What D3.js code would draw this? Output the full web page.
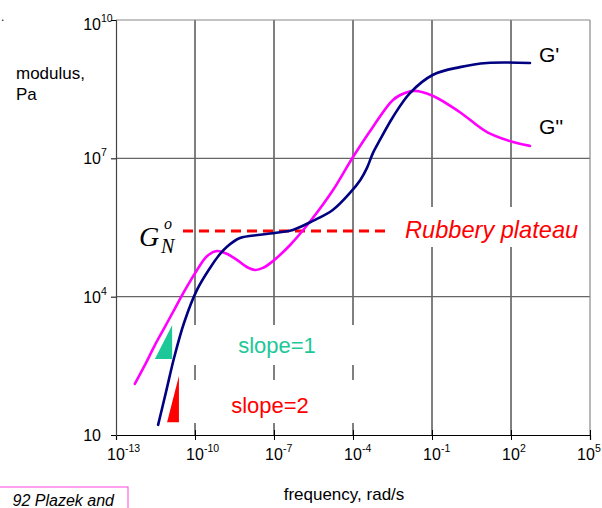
<!DOCTYPE html>
<html>
<head>
<meta charset="utf-8">
<script src="https://cdn.jsdelivr.net/npm/d3@7"></script>
<style>
  html, body { margin: 0; padding: 0; background: #fff; }
  svg { display: block; font-family: "Liberation Sans", Arial, sans-serif; }
</style>
</head>
<body>
<svg id="chart" width="602" height="508"></svg>
<script>
// Storage modulus G' (rad/s, Pa)
const gPrimeFreq = [3.98e-12, 7.94e-12, 1.6e-11, 3.82e-11, 1.19e-10, 3.72e-10, 8.9e-10,
  1.6e-9, 5.1e-9, 3.0e-8, 1.7e-7, 5.2e-7, 3.0e-6, 1.7e-5, 7.8e-5, 1.9e-4, 3.4e-4, 5.7e-4,
  1.05e-3, 3.3e-3, 1.45e-2, 0.11, 1.15, 12.3, 525];
const gPrimeMod = [16.6, 86, 468, 2.69e3, 1.4e4, 4.19e4, 8.4e4,
  1.2e5, 1.87e5, 2.2e5, 2.5e5, 2.8e5, 4.4e5, 7.6e5, 1.8e6, 3.4e6, 6.2e6, 1.3e7,
  2.5e7, 7.9e7, 2.6e8, 6.5e8, 9.5e8, 1.17e9, 1.17e9];

// Loss modulus G'' (rad/s, Pa)
const gDoublePrimeFreq = [5.2e-13, 1.26e-12, 3.0e-12, 7.2e-12, 1.74e-11, 4.2e-11, 1.2e-10, 2.9e-10,
  6.8e-10, 1.6e-9, 3.9e-9, 9.3e-9, 1.9e-8, 3.8e-8, 9.1e-8, 4.1e-7, 2.3e-6, 1.7e-5,
  1.0e-4, 5.7e-4, 3.3e-3, 9.4e-3, 2.2e-2, 0.11, 1.15, 12.3, 120, 525];
const gDoublePrimeMod = [129, 331, 891, 2.2e3, 5.6e3, 1.4e4, 3.8e4, 7.6e4,
  9.8e4, 8.5e4, 6.3e4, 4.4e4, 3.8e4, 4.2e4, 5.9e4, 1.32e5, 4.2e5, 2.0e6,
  1.07e7, 4.8e7, 1.85e8, 2.6e8, 2.9e8, 2.25e8, 1.0e8, 3.7e7, 2.25e7, 1.86e7];

// Rubbery plateau modulus and the frequency span of its marker line
const plateauModulus = 2.65e5;
const plateauFreq = [3.5e-11, 1.96e-3];

// Slope guides: [low freq, high freq], [low modulus, high modulus]
const slope1Freq = [3.0e-12, 1.35e-11];
const slope1Mod = [447, 2.4e3];
const slope2Freq = [8.7e-12, 2.45e-11];
const slope2Mod = [19, 190];

// Axis ticks (exponents of ten)
const xTickExp = [-13, -10, -7, -4, -1, 2, 5];
const yTickExp = [1, 4, 7, 10];

const svg = d3.select("#chart");
const plotLeft = 116, plotRight = 590, plotTop = 20, plotBottom = 435;

const x = d3.scaleLog().domain([1e-13, 1e5]).range([plotLeft, plotRight]);
const y = d3.scaleLog().domain([10, 1e10]).range([plotBottom, plotTop]);

const xTicks = xTickExp.map(e => Math.pow(10, e));
const yTicks = yTickExp.map(e => Math.pow(10, e));

// Gridlines
const grid = svg.append("g");
grid.selectAll("line.v").data(xTicks.slice(1, -1)).join("line")
  .attr("x1", d => x(d)).attr("x2", d => x(d))
  .attr("y1", plotTop).attr("y2", plotBottom)
  .attr("stroke", "#000").attr("stroke-width", 1);
grid.selectAll("line.h").data(yTicks.slice(1, -1)).join("line")
  .attr("x1", plotLeft).attr("x2", plotRight)
  .attr("y1", d => y(d)).attr("y2", d => y(d))
  .attr("stroke", "#666").attr("stroke-width", 1.2);
// Frame (top and right)
grid.append("line").attr("x1", plotLeft).attr("x2", plotRight).attr("y1", plotTop).attr("y2", plotTop)
  .attr("stroke", "#888").attr("stroke-width", 1.2);
grid.append("line").attr("x1", plotRight).attr("x2", plotRight).attr("y1", plotTop).attr("y2", plotBottom)
  .attr("stroke", "#888").attr("stroke-width", 1.2);

// White label boxes sit over the grid
const boxes = svg.append("g").attr("fill", "#fff");
boxes.append("rect").attr("x", 188).attr("y", 325).attr("width", 178).attr("height", 40);
boxes.append("rect").attr("x", 188).attr("y", 380).attr("width", 178).attr("height", 43);
boxes.append("rect").attr("x", 396).attr("y", 207).attr("width", 188).attr("height", 40);

// Axes
const xAxis = d3.axisBottom(x).tickValues(xTicks).tickSize(5).tickFormat("");
const gx = svg.append("g").attr("transform", `translate(0,${plotBottom})`).call(xAxis);
gx.select(".domain").attr("stroke", "#000").attr("stroke-width", 1.2);
gx.selectAll(".tick line").attr("stroke", "#000").attr("y1", -5).attr("y2", 5);

const yAxis = d3.axisLeft(y).tickValues(yTicks).tickSize(5).tickFormat("");
const gy = svg.append("g").attr("transform", `translate(${plotLeft},0)`).call(yAxis);
gy.select(".domain").attr("stroke", "#444").attr("stroke-width", 1.2);
gy.selectAll(".tick line").attr("stroke", "#000");

// Tick labels with superscript exponents
const tickFont = 16, supFont = 10.5;
const xl = svg.append("g").attr("font-size", tickFont).attr("fill", "#000");
xTickExp.forEach((e, i) => {
  // the last label is nudged left so it stays on the page
  const cx = x(Math.pow(10, e)) - (i === xTickExp.length - 1 ? 4 : 0);
  xl.append("text").attr("x", cx).attr("y", 460).attr("text-anchor", "middle").text("10");
  xl.append("text").attr("x", cx + 9).attr("y", 452).attr("font-size", supFont).text(String(e));
});
const yl = svg.append("g").attr("font-size", tickFont).attr("fill", "#000");
yTickExp.forEach(e => {
  const cy = y(Math.pow(10, e));
  const by = e === 10 ? 30 : cy + 6;
  yl.append("text").attr("x", 101).attr("y", by).attr("text-anchor", "end").text("10");
  if (e !== 1) {
    yl.append("text").attr("x", 101).attr("y", by - 8).attr("font-size", supFont).text(String(e));
  }
});

// Axis titles
svg.append("text").attr("x", 16).attr("y", 79).attr("font-size", 17).text("modulus,");
svg.append("text").attr("x", 16).attr("y", 100).attr("font-size", 17).text("Pa");
svg.append("text").attr("x", 344).attr("y", 500).attr("font-size", 17)
  .attr("text-anchor", "middle").text("frequency, rad/s");

// Rubbery plateau marker
svg.append("line")
  .attr("x1", x(plateauFreq[0])).attr("x2", x(plateauFreq[1]))
  .attr("y1", y(plateauModulus)).attr("y2", y(plateauModulus))
  .attr("stroke", "#f00").attr("stroke-width", 3).attr("stroke-dasharray", "10,6");

// Slope triangles
function tri(fx, my, color) {
  const pts = [[x(fx[0]), y(my[0])], [x(fx[1]), y(my[1])], [x(fx[1]), y(my[0])]];
  svg.append("path").attr("d", d3.line()(pts) + "Z").attr("fill", color);
}
tri(slope1Freq, slope1Mod, "#1dc898");
tri(slope2Freq, slope2Mod, "#ff0000");

// Curves
const line = d3.line().curve(d3.curveCatmullRom.alpha(0.5));
svg.append("path")
  .attr("d", line(gDoublePrimeFreq.map((f, i) => [x(f), y(gDoublePrimeMod[i])])))
  .attr("fill", "none").attr("stroke", "#ff00ff").attr("stroke-width", 2.6)
  .attr("stroke-linecap", "round");
svg.append("path")
  .attr("d", line(gPrimeFreq.map((f, i) => [x(f), y(gPrimeMod[i])])))
  .attr("fill", "none").attr("stroke", "#000080").attr("stroke-width", 2.6)
  .attr("stroke-linecap", "round");

// Curve labels
svg.append("text").attr("x", 539).attr("y", 62).attr("font-size", 21).text("G'");
svg.append("text").attr("x", 539).attr("y", 134).attr("font-size", 21).text("G''");

// G_N^o label
const serif = "'Liberation Serif', 'Times New Roman', serif";
const gnLabel = svg.append("g").attr("font-family", serif).attr("font-style", "italic").attr("fill", "#000");
gnLabel.append("text").attr("x", 139).attr("y", 246).attr("font-size", 28).text("G");
gnLabel.append("text").attr("x", 164).attr("y", 229).attr("font-size", 16).text("o");
gnLabel.append("text").attr("x", 161).attr("y", 253).attr("font-size", 20).text("N");

// Annotations
svg.append("text").attr("x", 405).attr("y", 238).attr("font-size", 23.6)
  .attr("font-style", "italic").attr("fill", "#f00").text("Rubbery plateau");
svg.append("text").attr("x", 277).attr("y", 353).attr("font-size", 22)
  .attr("text-anchor", "middle").attr("fill", "#1dc898").text("slope=1");
svg.append("text").attr("x", 270).attr("y", 413).attr("font-size", 22)
  .attr("text-anchor", "middle").attr("fill", "#f00").text("slope=2");

// Citation box at the lower left
svg.append("rect").attr("x", -2).attr("y", 487).attr("width", 130).attr("height", 40)
  .attr("fill", "none").attr("stroke", "#ff44dd").attr("stroke-width", 1);
svg.append("text").attr("x", 114).attr("y", 506).attr("font-size", 16)
  .attr("font-style", "italic").attr("text-anchor", "end").text("92 Plazek and");
svg.append("text").attr("x", 1).attr("y", 21).attr("font-size", 12).text(".");
</script>
</body>
</html>
